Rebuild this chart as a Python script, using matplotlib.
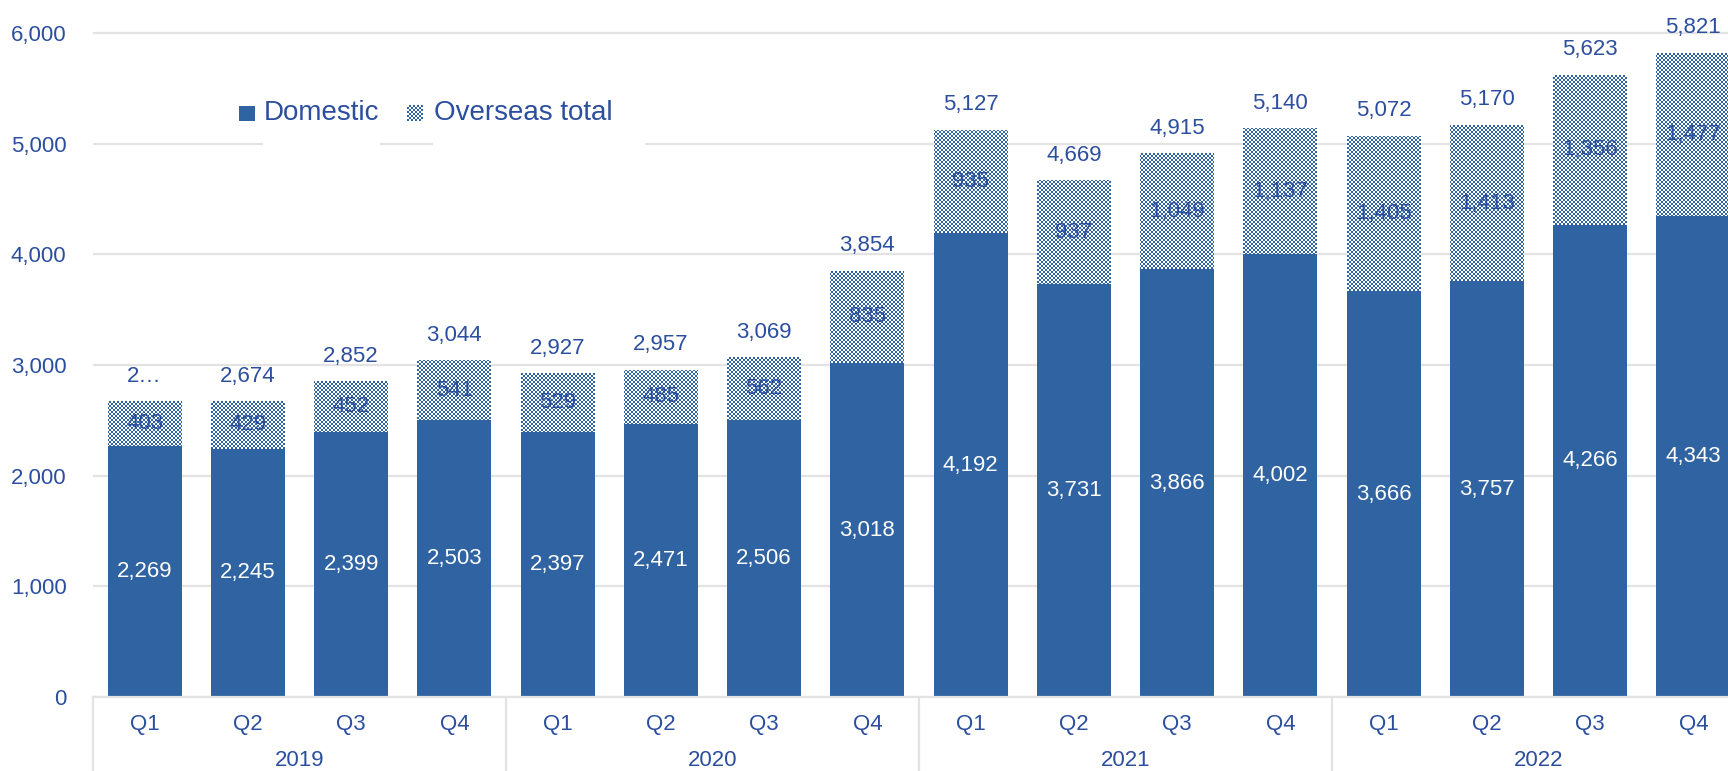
import numpy as np
import matplotlib
matplotlib.use("Agg")
import matplotlib.pyplot as plt
from matplotlib.patches import Rectangle
from matplotlib.path import Path
from matplotlib.transforms import blended_transform_factory

# ---- data ----
quarters = ["Q1", "Q2", "Q3", "Q4"] * 4
years = ["2019", "2020", "2021", "2022"]
domestic = [2269, 2245, 2399, 2503, 2397, 2471, 2506, 3018,
            4192, 3731, 3866, 4002, 3666, 3757, 4266, 4343]
overseas = [403, 429, 452, 541, 529, 485, 562, 835,
            935, 937, 1049, 1137, 1405, 1413, 1356, 1477]
totals = [2672, 2674, 2852, 3044, 2927, 2957, 3069, 3854,
          5127, 4669, 4915, 5140, 5072, 5170, 5623, 5821]
truncated_totals = {0}   # labels too wide for their slot are shortened
y_ticks = [0, 1000, 2000, 3000, 4000, 5000, 6000]

# ---- style ----
BAR_BLUE = "#2F63A1"
TEXT_BLUE = "#2B4E9E"
GRID = "#E3E3E3"
FONT = "Liberation Sans"
plt.rcParams["font.family"] = [FONT, "DejaVu Sans"]

W, H, DPI = 1728, 771, 100
fig = plt.figure(figsize=(W / DPI, H / DPI), dpi=DPI)

# axes laid out in whole pixels so the fine checker texture stays crisp
ax_left, ax_bottom, ax_w, ax_h = 93, 74, 1652, 696
ax = fig.add_axes([ax_left / W, ax_bottom / H, ax_w / W, ax_h / H])
ymax = ax_h / (664 / 6000)
xlim = (-0.5, len(domestic) - 0.5)
ax.set_xlim(*xlim)
ax.set_ylim(0, ymax)

x = np.arange(len(domestic))
bw = 0.715

ax.set_yticks(y_ticks)
ax.set_yticklabels([f"{v:,}" for v in y_ticks])
ax.yaxis.grid(True, color=GRID, linewidth=1.6, zorder=0)
ax.set_axisbelow(True)
ax.tick_params(axis="y", length=0, pad=19, labelsize=16, labelcolor=TEXT_BLUE)
ax.set_xticks(x)
ax.set_xticklabels(quarters)
ax.tick_params(axis="x", length=0, pad=12, labelsize=16, labelcolor=TEXT_BLUE)
for s in ["top", "right", "left"]:
    ax.spines[s].set_visible(False)
ax.spines["bottom"].set_color(GRID)
ax.spines["bottom"].set_linewidth(1.6)

# stacked bars
dom_bars = ax.bar(x, domestic, width=bw, color=BAR_BLUE, zorder=2)
ovs_bars = ax.bar(x, overseas, width=bw, bottom=domestic, color="white",
                  zorder=2)

# checkerboard texture for the overseas segments
rows, cols = ax_h // 2, ax_w // 2
ii, jj = np.indices((rows, cols))
checker = np.ones((rows, cols, 4))
blue_rgb = matplotlib.colors.to_rgb(BAR_BLUE)
mask = (ii + jj) % 2 == 0
checker[mask, :3] = blue_rgb
extent = (xlim[0], xlim[1], 0, ymax)
img = ax.imshow(checker, extent=extent, interpolation="nearest",
                aspect="auto", zorder=2.5)
clip = Path.make_compound_path(
    *[r.get_path().transformed(r.get_patch_transform()) for r in ovs_bars])
img.set_clip_path(clip, ax.transData)
ax.set_xlim(*xlim)
ax.set_ylim(0, ymax)

# value labels
for i in range(len(x)):
    ax.text(x[i], domestic[i] / 2, f"{domestic[i]:,}", ha="center",
            va="center", color="white", fontsize=16, zorder=5)
    ax.text(x[i], domestic[i] + overseas[i] / 2, f"{overseas[i]:,}",
            ha="center", va="center", color=TEXT_BLUE, fontsize=16, zorder=5)
    label = f"{totals[i]:,}"
    if i in truncated_totals:
        label = label[0] + "\u2026"
    ax.annotate(label, (x[i], domestic[i] + overseas[i]),
                xytext=(0, 18), textcoords="offset points", ha="center",
                va="center", color=TEXT_BLUE, fontsize=16, zorder=5)

# year grouping below the quarter labels
btrans = blended_transform_factory(ax.transData, ax.transAxes)
for g, yr in enumerate(years):
    centre = np.mean(x[g * 4:(g + 1) * 4])
    ax.text(centre, -63 / ax_h, yr, transform=btrans, ha="center",
            va="center", color=TEXT_BLUE, fontsize=16)
for b in range(len(years) + 1):
    xb = b * 4 - 0.5
    ax.plot([xb, xb], [0, -ax_bottom / ax_h], transform=btrans,
            color=GRID, linewidth=1.6, clip_on=False)

# legend, drawn in figure pixels
def fbox(x0, y0, x1, y1, **kw):
    return Rectangle((x0 / W, 1 - y1 / H), (x1 - x0) / W, (y1 - y0) / H,
                     transform=fig.transFigure, **kw)

fig.add_artist(fbox(263, 88, 380, 150, facecolor="white", edgecolor="none",
                    zorder=3))
fig.add_artist(fbox(433, 88, 645, 150, facecolor="white", edgecolor="none",
                    zorder=3))
fig.add_artist(fbox(239, 106, 255, 121, facecolor=BAR_BLUE, edgecolor="none",
                    zorder=4))
marker = fbox(407, 105, 423, 121, facecolor="none", edgecolor="none")
fig.add_artist(marker)
img2 = ax.imshow(checker, extent=extent, interpolation="nearest",
                 aspect="auto", zorder=2.5)
img2.set_clip_path(marker)
ax.set_xlim(*xlim)
ax.set_ylim(0, ymax)

fig.text(264 / W, 1 - 113 / H, "Domestic", ha="left", va="center",
         color=TEXT_BLUE, fontsize=20, zorder=5)
fig.text(434 / W, 1 - 113 / H, "Overseas total", ha="left", va="center",
         color=TEXT_BLUE, fontsize=20, zorder=5)

fig.savefig("out.png", dpi=DPI)
